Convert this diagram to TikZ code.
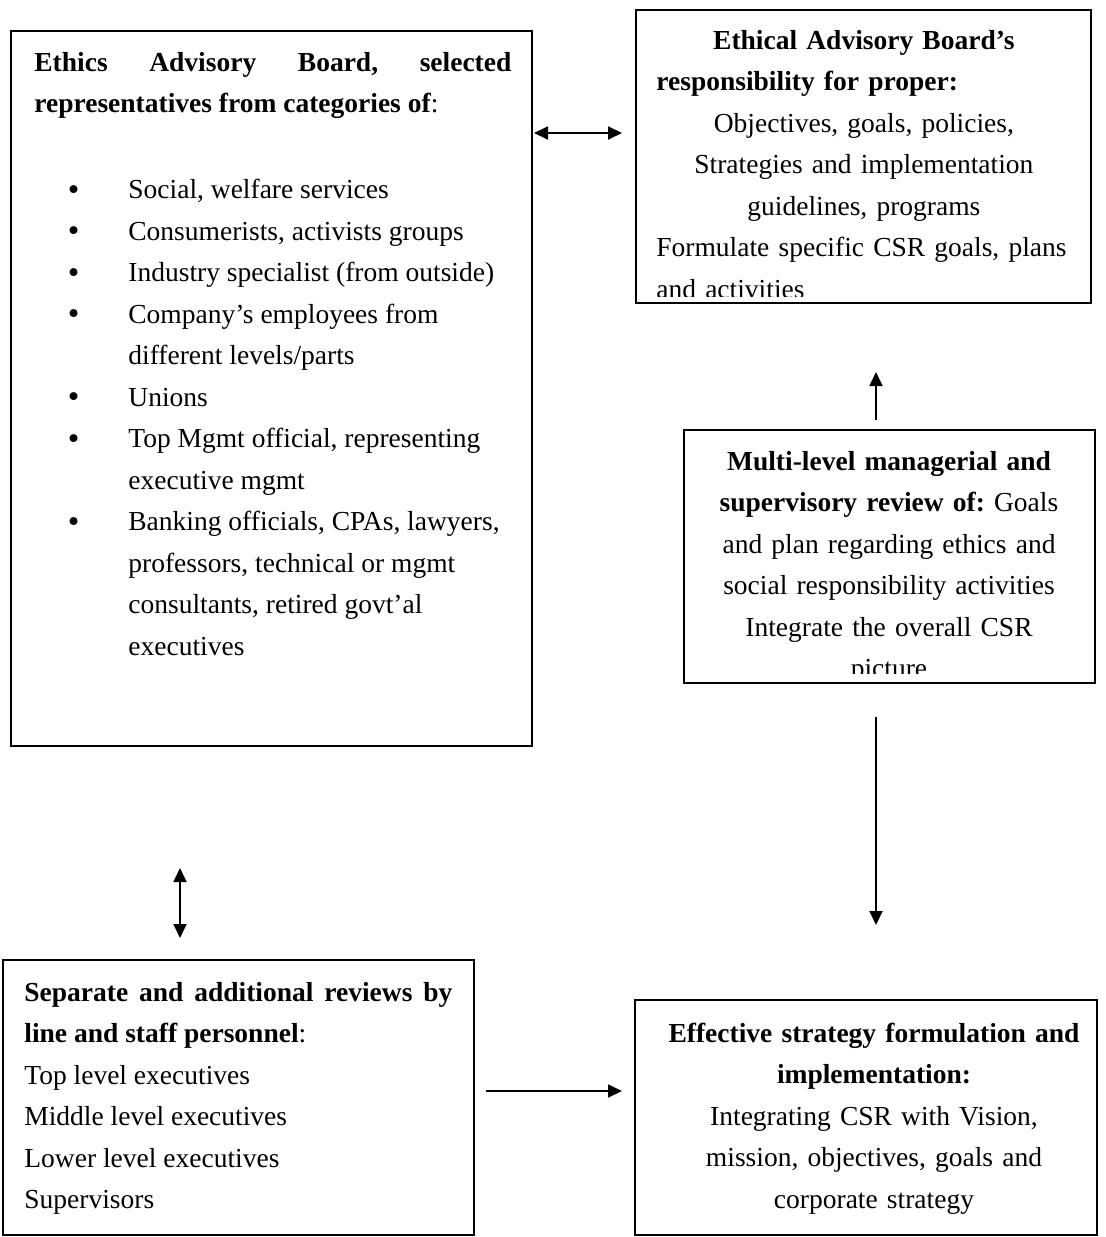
\documentclass[tikz,border=0pt]{standalone}
\usepackage{fontspec}
\setmainfont{Liberation Serif}
\usetikzlibrary{arrows.meta}
\hyphenpenalty=10000
\exhyphenpenalty=10000
\frenchspacing
\newcommand{\bitem}{\par\noindent\llap{\raisebox{-0.8pt}{\fontsize{16.5pt}{0pt}\selectfont\textbullet}\hspace{24.5pt}}}
\begin{document}
\begin{tikzpicture}[x=0.5pt,y=-0.5pt,
  box/.style={draw,line width=1.1pt,inner sep=0pt,outer sep=0pt,anchor=north west},
  txt/.style={inner sep=0pt,font=\fontsize{13.75pt}{20.75pt}\selectfont},
  arr/.style={line width=0.9pt,-{Triangle[length=7pt,width=6.5pt]}},
  darr/.style={line width=0.9pt,{Triangle[length=7pt,width=6.5pt]}-{Triangle[length=7pt,width=6.5pt]}}]
\useasboundingbox (0,0) rectangle (1105,1237);
\node[box,minimum width=260.5pt,minimum height=357.5pt] (ethics) at (11,31) {};
\node[box,minimum width=227.5pt,minimum height=146.5pt] (proper) at (636,10) {};
\node[box,minimum width=205.5pt,minimum height=126.5pt] (review) at (684,430) {};
\node[box,minimum width=235.5pt,minimum height=137.5pt] (staff) at (3,960) {};
\node[box,minimum width=231pt,minimum height=117.5pt] (strategy) at (635,1000) {};
\node[txt,text width=238.5pt,align=justify,anchor=base west] (ethicstxt) at (34,71) {%
  \textbf{Ethics Advisory Board, selected\linebreak representatives from categories of}:\par
  \vspace{22.25pt}
  \raggedright\leftskip=47pt\rightskip=-10pt plus 1fil
  \bitem Social, welfare services
  \bitem Consumerists, activists groups
  \bitem Industry specialist (from outside)
  \bitem Company’s employees from different levels/parts
  \bitem Unions
  \bitem Top Mgmt official, representing executive mgmt
  \bitem Banking officials, CPAs, lawyers, professors, technical or mgmt consultants, retired govt’al executives\par};
\begin{scope}
\clip (proper.north west) rectangle ([yshift=3.5pt]proper.south east);
\node[txt,text width=207.5pt,anchor=base west] (propertxt) at (656,49) {%
  {\centering\textbf{Ethical Advisory Board’s}\par}
  \noindent\textbf{responsibility for proper:}\par
  {\centering Objectives, goals, policies,\\ Strategies and implementation\\ guidelines, programs\par}
  \rightskip=-8pt plus 1fil
  \noindent Formulate specific CSR goals, plans\\ and activities\par};
\end{scope}
\begin{scope}
\clip (review.north west) rectangle ([yshift=5pt]review.south east);
\node[txt,text width=200pt,align=center,anchor=base] (reviewtxt) at (889,470) {%
  \textbf{Multi-level managerial and}\\ \textbf{supervisory review of:} Goals\\
  and plan regarding ethics and\\ social responsibility activities\\
  Integrate the overall CSR\\ picture};
\end{scope}
\node[txt,text width=214pt,align=justify,anchor=base west] (stafftxt) at (24,1001) {%
  \textbf{Separate and additional reviews by\linebreak line and staff personnel}:\par
  Top level executives\par Middle level executives\par
  Lower level executives\par Supervisors\par};
\node[txt,text width=230pt,align=center,anchor=base] (strategytxt) at (874,1042) {%
  \textbf{Effective strategy formulation and}\\ \textbf{implementation:}\\
  Integrating CSR with Vision,\\ mission, objectives, goals and\\ corporate strategy};
\coordinate (ab1) at (534,133);
\coordinate (ab2) at (622,133);
\coordinate (rp1) at (876,420);
\coordinate (rp2) at (876,372);
\coordinate (rs1) at (876,717);
\coordinate (rs2) at (876,925);
\coordinate (es1) at (180,868);
\coordinate (es2) at (180,938);
\coordinate (ss1) at (486,1091);
\coordinate (ss2) at (622,1091);
\draw[darr] (ab1) -- (ab2);
\draw[arr] (rp1) -- (rp2);
\draw[arr] (rs1) -- (rs2);
\draw[darr] (es1) -- (es2);
\draw[arr] (ss1) -- (ss2);
\end{tikzpicture}
\end{document}
